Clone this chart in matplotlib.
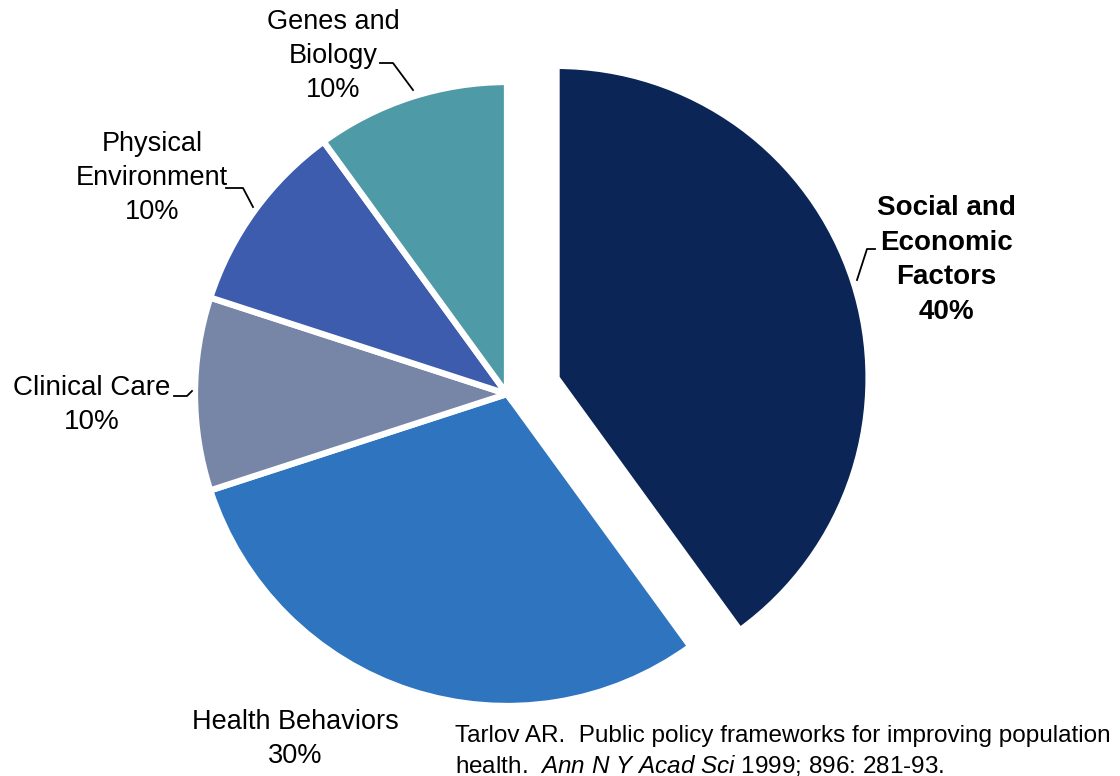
import matplotlib.pyplot as plt

plt.rcParams['font.family'] = ['Liberation Sans', 'DejaVu Sans']
plt.rcParams['mathtext.fontset'] = 'custom'
plt.rcParams['mathtext.it'] = 'Liberation Sans:italic'
plt.rcParams['mathtext.rm'] = 'Liberation Sans'

labels = ['Social and\nEconomic\nFactors', 'Health Behaviors', 'Clinical Care',
          'Physical\nEnvironment', 'Genes and\nBiology']
shares = [40, 30, 10, 10, 10]
colors = ['#0b2656', '#2f74bf', '#7786a6', '#3e5cae', '#4f9aa7']

W, H = 1120, 776
fig = plt.figure(figsize=(11.2, 7.76), dpi=100)
ax = fig.add_axes([0, 0, 1, 1])

# pie centre and radius in pixel units (y measured from the bottom)
cx, cy, r = 507, H - 394, 312
explode = [0.167 * r, 0, 0, 0, 0]
ax.pie(shares, colors=colors, explode=explode, startangle=90, counterclock=False,
       center=(cx, cy), radius=r, frame=True,
       wedgeprops=dict(edgecolor='white', linewidth=4.5))
ax.set_xlim(0, W)
ax.set_ylim(0, H)
ax.set_aspect('equal')
ax.axis('off')

fs = 19.5
def lab(x, y, s, size=fs, **kw):
    ax.text(x, H - y, s, ha='center', va='center', fontsize=size, linespacing=1.42, **kw)

def leader(pts):
    xs = [p[0] for p in pts]
    ys = [H - p[1] for p in pts]
    ax.plot(xs, ys, color='black', lw=1.3)

lab(333, 56, labels[4] + '\n' + str(shares[4]) + '%')
leader([(380, 63), (393, 63), (413, 90)])

lab(152, 178, labels[3] + '\n' + str(shares[3]) + '%')
leader([(226, 188), (243, 188), (253, 207)])

lab(92, 405, labels[2] + '\n' + str(shares[2]) + '%', size=20)
leader([(174, 396), (187, 396), (192, 391)])

lab(295, 739, labels[1] + '\n' + str(shares[1]) + '%')

lab(946, 260, labels[0] + '\n' + str(shares[0]) + '%', size=20, fontweight='bold')
leader([(875, 249), (867, 249), (857, 280)])

cs = 17.5
ax.text(455, H - 736, 'Tarlov AR.  Public policy frameworks for improving population',
        ha='left', va='center', fontsize=cs)
ax.text(455, H - 765, 'health.  $Ann\\ N\\ Y\\ Acad\\ Sci$ 1999; 896: 281-93.',
        ha='left', va='center', fontsize=cs)

fig.savefig('out.png', dpi=100)
